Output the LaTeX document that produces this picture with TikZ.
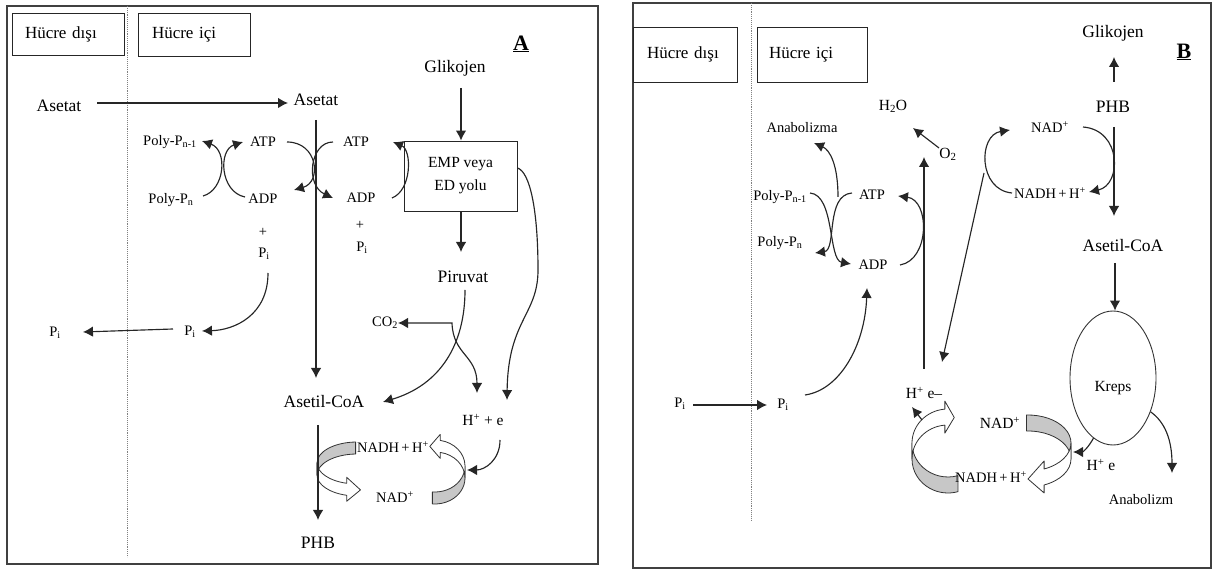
\documentclass[tikz,border=0pt]{standalone}
\usepackage{fontspec}
\setmainfont{Liberation Serif}
\usetikzlibrary{arrows.meta,calc,shapes.geometric}

% 3-D looking curved block arrow: grey inner side, then white outer side ending in a head
% #1,#2 centre  #3,#4 radii  #5 band height  #6 grey start  #7 fold  #8 head base  #9 tip (angles)
\newcommand\ribbonloop[9]{%
  \filldraw[ribgrey] ({#1+#3*cos(#6)},{#2+#4*sin(#6)})
    arc[start angle=#6,end angle=#7,x radius=#3,y radius=#4]
    -- ++(0,-#5)
    arc[start angle=#7,end angle=#6,x radius=#3,y radius=#4] -- cycle;
  \filldraw[ribwhite] ({#1+#3*cos(#7)},{#2+#4*sin(#7)})
    arc[start angle=#7,end angle=#8,x radius=#3,y radius=#4]
    -- ++(0,#5/2)
    -- ({#1+#3*cos(#9)},{#2+#4*sin(#9)-#5/2})
    -- ({#1+#3*cos(#8)},{#2+#4*sin(#8)-#5-#5/2})
    -- ++(0,#5/2)
    arc[start angle=#8,end angle=#7,x radius=#3,y radius=#4] -- cycle;
}

\tikzset{
  big/.style={font=\fontsize{17.5}{20}\selectfont, inner sep=1pt},
  mid/.style={font=\fontsize{15.5}{18}\selectfont, inner sep=1pt},
  sml/.style={font=\fontsize{14.5}{16}\selectfont, inner sep=1pt},
  zonebox/.style={draw=black!85, line width=0.9pt, align=left,
    font=\fontsize{17}{20}\selectfont, inner ysep=0pt},
  panel/.style={draw=black!75, line width=1.6pt},
  membrane/.style={draw=black!50, densely dotted, line width=0.9pt},
  flow/.style={draw=black!85, line width=1.15pt, -{Latex[length=10pt,width=10.5pt]}},
  twoway/.style={draw=black!85, line width=1.15pt,
    {Latex[length=10pt,width=10.5pt]}-{Latex[length=10pt,width=10.5pt]}},
  ribgrey/.style={fill=black!22, draw=black!80, line width=0.8pt, line join=round},
  ribwhite/.style={fill=white, draw=black!80, line width=0.8pt, line join=round},
  panellabel/.style={font=\fontsize{22}{24}\selectfont\bfseries, inner sep=0pt},
}

\begin{document}
\begin{tikzpicture}[x=1pt,y=1pt]
\useasboundingbox (0,0) rectangle (1213,570);

% ================= panel A =================
\draw[panel] (7,6) rectangle (598,564);
\draw[membrane] (127,564) -- (127,13);

% NADH / NAD+ turnover loops
\ribbonloop{357}{107}{40}{21}{12}{92}{180}{255}{275}
\ribbonloop{435}{104}{30}{26}{12}{-95}{0}{80}{100}
\coordinate (foldAR) at (467,100);

\node[zonebox, text width=86pt, inner xsep=13pt, minimum height=42pt] (hdA) at (68,536) {Hücre dışı};
\node[zonebox, text width=84pt, inner xsep=14pt, minimum height=43pt] (hiA) at (194,535.5) {Hücre içi};
\node[panellabel] (labA) at (521,526) {\underline{A}};

\node[big] (aoA) at (59,464) {Asetat};
\node[big] (aiA) at (316,470) {Asetat};
\node[big] (glkA) at (455,502) {Glikojen};
\node[draw=black!85, line width=0.9pt, minimum width=113pt, minimum height=70pt,
      align=center, font=\fontsize{15.5}{23}\selectfont] (empA) at (460.5,394) {EMP veya\\ED yolu};
\node[big] (piruvatA) at (463,293) {Piruvat};
\node[sml] (co2A) at (385,247) {CO\textsubscript{2}};
\node[mid] (hpeA) at (483,150) {H\textsuperscript{+} + e};
\node[big] (asetilA) at (324,168) {Asetil-CoA};
\node[big] (phbA) at (318,27) {PHB};
\node[sml] (nadhA) at (393,123) {NADH\,+\,H\textsuperscript{+}};
\node[sml] (nadA) at (395,73) {NAD\textsuperscript{+}};

\node[sml] (ppn1A) at (170,428) {Poly-P\textsubscript{n-1}};
\node[sml] (ppnA) at (171,370) {Poly-P\textsubscript{n}};
\node[sml] (atpA1) at (263,428) {ATP};
\node[sml] (adpA1) at (263,371) {ADP};
\node[sml] (plusA1) at (263,338) {+};
\node[sml] (piA1) at (264,316) {P\textsubscript{i}};
\node[sml] (atpA2) at (356,428) {ATP};
\node[sml] (adpA2) at (361,372) {ADP};
\node[sml] (plusA2) at (360,345) {+};
\node[sml] (piA2) at (362,322) {P\textsubscript{i}};
\node[sml] (piA3) at (190,238) {P\textsubscript{i}};
\node[sml] (piA4) at (55,237) {P\textsubscript{i}};

% main carbon flow
\draw[flow] ($(aoA)+(38,3)$) -- ($(aiA)+(-28,-3)$);
\draw[flow] ($(aiA)+(0,-20)$) -- ($(asetilA)+(-8,24)$);
\draw[flow] ($(asetilA)+(-6,-23)$) -- ($(phbA)+(0,23)$);
\draw[flow] ($(glkA)+(6,-20)$) -- ($(empA.north)+(0.5,0)$);
\draw[flow] ($(empA.south)+(0.5,0)$) -- ($(piruvatA)+(-2,25)$);
\draw[flow] ($(empA.east)+(0,8)$) .. controls (530,398) and (538,360) .. (538,300)
  .. controls (538,255) and (508,250) .. ($(hpeA)+(24,20)$);
\draw[flow] ($(piruvatA)+(2,-13)$) .. controls (465,225) and (440,185) .. ($(asetilA)+(59,0)$);
\draw[twoway] ($(co2A)+(13,0)$) -- (452,247) .. controls (453,215) and (477,215) .. ($(hpeA)+(-6,27)$);
\draw[flow] ($(hpeA)+(17,-20)$) .. controls (500,110) and (485,100) .. (foldAR);

% phosphate cycling
\draw[flow] ($(ppnA)+(32,4)$) .. controls (225,380) and (228,420) .. ($(ppn1A)+(32,1)$);
\draw[flow] ($(adpA1)+(-18,2)$) .. controls (220,378) and (218,420) .. ($(atpA1)+(-20,0)$);
\draw[flow] ($(atpA1)+(24,0)$) .. controls (318,428) and (322,388) .. ($(adpA1)+(31,9)$);
\draw[flow] ($(atpA2)+(-23,0)$) .. controls (310,428) and (305,385) .. ($(adpA2)+(-28,0)$);
\draw[flow] ($(adpA2)+(31,0)$) .. controls (412,380) and (412,420) .. ($(atpA2)+(37,0)$);
\draw[flow] ($(piA1)+(4,-19)$) .. controls (268,255) and (235,240) .. ($(piA3)+(12,1)$);
\draw[flow] ($(piA3)+(-17,3)$) -- ($(piA4)+(28,1)$);

% ================= panel B =================
\draw[panel] (633,2) rectangle (1211,567);
\draw[membrane] (751,567) -- (751,49);

% NAD+ / NADH turnover loops
\ribbonloop{1028}{127}{43}{28}{16}{92}{0}{-68}{-90}
\ribbonloop{948}{127}{36}{34}{16}{-74}{-180}{-265}{-280}
\coordinate (foldBR) at (1073,118);
\coordinate (ribBL) at (922,150);

\node[zonebox, text width=76pt, inner xsep=14pt, minimum height=55pt] (hdB) at (685,515.5) {Hücre dışı};
\node[zonebox, text width=86pt, inner xsep=12pt, minimum height=55pt] (hiB) at (812,515.5) {Hücre içi};
\node[panellabel] (labB) at (1184,518) {\underline{B}};

\node[big] (glkB) at (1113,537) {Glikojen};
\node[big] (phbB) at (1113,463) {PHB};
\node[big] (asetilB) at (1123,324) {Asetil-CoA};
\node[draw=black!80, line width=0.9pt, ellipse, minimum width=86pt, minimum height=134pt,
      inner sep=0pt, font=\fontsize{15.5}{18}\selectfont] (kreps) at (1113,192)
      {\raisebox{-14pt}[0pt][0pt]{Kreps}};
\node[sml] (anabB) at (1141,70) {Anabolizm};
\node[mid] (hmeB) at (1101,105) {H\textsuperscript{+} e};
\node[mid] (nadB2) at (1000,147) {NAD\textsuperscript{+}};
\node[sml] (nadhB2) at (991,93) {NADH\,+\,H\textsuperscript{+}};
\node[mid] (hpeB) at (924,177) {H\textsuperscript{+} e–};
\node[sml] (nadB1) at (1050,443) {NAD\textsuperscript{+}};
\node[sml] (nadhB1) at (1050,377) {NADH\,+\,H\textsuperscript{+}};
\node[mid] (h2oB) at (893,464) {H\textsubscript{2}O};
\node[mid] (o2B) at (948,416) {O\textsubscript{2}};
\node[sml] (anabaB) at (802,442) {Anabolizma};
\node[sml] (ppn1B) at (780,373) {Poly-P\textsubscript{n-1}};
\node[sml] (ppnB) at (780,327) {Poly-P\textsubscript{n}};
\node[sml] (atpB) at (872,375) {ATP};
\node[sml] (adpB) at (873,305) {ADP};
\node[sml] (piB1) at (783,165) {P\textsubscript{i}};
\node[sml] (piB2) at (680,166) {P\textsubscript{i}};

% PHB degradation
\draw[flow] ($(phbB)+(1,25)$) -- ($(glkB)+(1,-24)$);
\draw[flow] ($(phbB)+(1,-20)$) -- ($(asetilB)+(-9,30)$);
\draw[flow] ($(asetilB)+(-8,-17)$) -- ($(kreps.north)+(2,0)$);
\draw[flow] (kreps.-42) .. controls (1165,148) and (1172,130) .. ($(anabB)+(31,27)$);
\draw[flow] (kreps.-108) .. controls (1088,122) and (1083,118) .. (foldBR);

% reducing equivalents and respiration
\draw[flow] (ribBL) -- ($(hpeB)+(-12,-14)$);
\draw[flow] ($(hpeB)+(0,24)$) -- ($(h2oB)+(31,-51)$);
\draw[flow] ($(o2B)+(-9,6)$) -- ($(h2oB)+(20,-22)$);
\draw[flow] ($(nadhB1)+(-38,0)$) .. controls (978,380) and (978,435) .. ($(nadB1)+(-40,-3)$);
\draw[flow] ($(nadB1)+(33,0)$) .. controls (1122,440) and (1122,385) .. ($(nadhB1)+(39,1)$);
\coordinate (arcB) at (984,397);
\draw[flow] (arcB) -- ($(hpeB)+(18,31)$);

% phosphate cycling
\draw[flow] ($(ppn1B)+(30,4)$) .. controls (835,375) and (828,310) .. ($(adpB)+(-22,1)$);
\draw[flow] ($(atpB)+(-20,2)$) .. controls (825,375) and (837,320) .. ($(ppnB)+(35,-10)$);
\draw[flow] ($(atpB)+(-34,-2)$) .. controls (838,405) and (830,420) .. ($(anabaB)+(12,-15)$);
\draw[flow] ($(adpB)+(27,0)$) .. controls (930,310) and (930,370) .. ($(atpB)+(26,-1)$);
\draw[flow] ($(piB1)+(22,10)$) .. controls (840,180) and (865,225) .. ($(adpB)+(-6,-23)$);
\draw[flow] ($(piB2)+(13,-1)$) -- ($(piB1)+(-16,0)$);
\end{tikzpicture}
\end{document}
